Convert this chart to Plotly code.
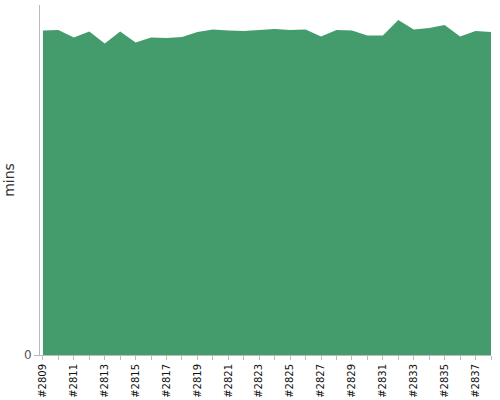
import plotly.graph_objects as go

builds = ["#%d" % n for n in range(2809, 2839)]
mins = [64.9, 65.0, 63.5, 64.7, 62.3, 64.7, 62.5, 63.5, 63.4, 63.6,
        64.6, 65.1, 64.9, 64.8, 65.0, 65.2, 65.0, 65.1, 63.7, 65.0,
        64.9, 63.9, 63.9, 67.0, 65.1, 65.4, 66.0, 63.7, 64.8, 64.6]

fig = go.Figure()
fig.add_trace(go.Scatter(
    x=builds, y=mins, mode='lines', fill='tozeroy',
    line={'color': '#449c6d', 'width': 0},
    fillcolor='#449c6d', name='mins'))

fig.update_layout(
    width=500, height=400,
    margin=dict(l=40, r=9, t=5, b=45, autoexpand=False),
    plot_bgcolor='white', paper_bgcolor='white',
    showlegend=False,
    font=dict(family='DejaVu Sans', color='#333'),
)
fig.update_xaxes(
    type='category', range=[-0.19, 29], tickangle=-90,
    dtick=1, ticklabelstep=2, automargin=False,
    ticks='outside', ticklen=4, tickcolor='#bbb',
    showline=True, linecolor='#bbb', showgrid=False,
    tickfont=dict(size=10, color='#111'),
)
fig.update_yaxes(
    range=[0, 70], tickvals=[0], ticktext=['0'], automargin=False,
    ticks='outside', ticklen=5, tickcolor='#bbb',
    showline=True, linecolor='#bbb', showgrid=False, zeroline=False,
    tickfont=dict(size=12, color='#555'),
    title=dict(text='mins', font=dict(size=14, color='#333'), standoff=6),
)

# the page body has an 8px margin by default; drop it so the chart fills the window
fig.write_html("out.html", config={'displayModeBar': False},
               post_script="document.body.style.margin='0';")
